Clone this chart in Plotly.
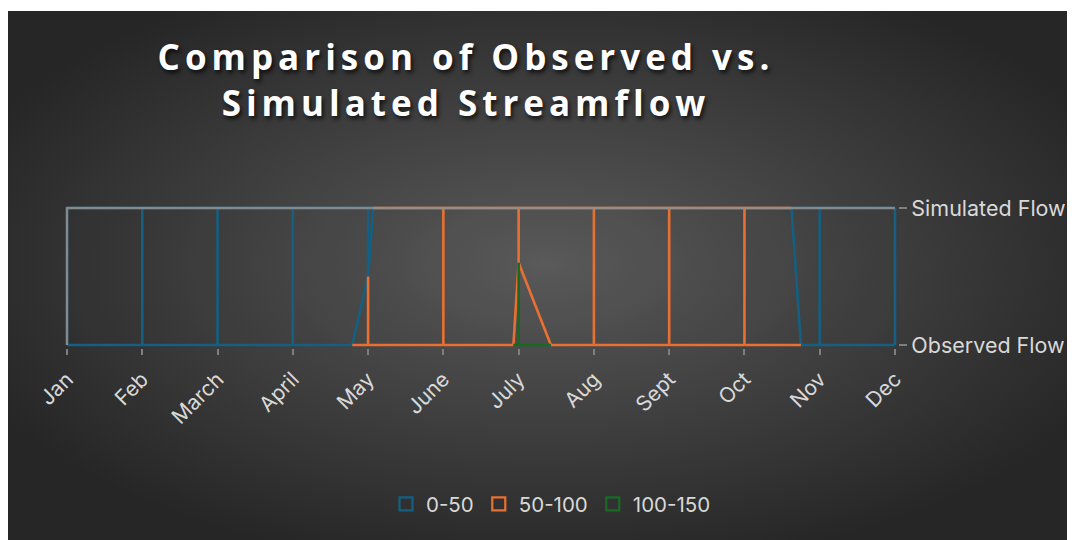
import base64
import plotly.graph_objects as go

# ---------------- data ----------------
months = ["Jan", "Feb", "March", "April", "May", "June", "July",
          "Aug", "Sept", "Oct", "Nov", "Dec"]
series_names = ["Observed Flow", "Simulated Flow"]
observed = [12, 10, 15, 42.5, 52, 60, 103, 96, 80, 65, 45, 20]
simulated = [20, 25, 30, 35, 48, 77, 98, 85, 75, 70, 38, 30]
band_labels = ["0-50", "50-100", "100-150"]
band_edges = [0, 50, 100, 150]
band_colors = ["#156082", "#E97132", "#196B24"]

# ------------- wireframe (surface chart) construction -------------
Z = [observed, simulated]
nx = len(months)
levels = band_edges[1:-1]


def band_of(v):
    for i in range(len(band_edges) - 1):
        if band_edges[i] <= v < band_edges[i + 1]:
            return i
    return len(band_edges) - 2


segs = {i: ([], []) for i in range(len(band_labels))}


def add_edge(p0, p1, v0, v1):
    # split an edge at band boundaries, colour each piece by its band
    ts = [0.0]
    for L in levels:
        if (v0 - L) * (v1 - L) < 0:
            ts.append((L - v0) / (v1 - v0))
    ts.append(1.0)
    ts.sort()
    for a, b in zip(ts[:-1], ts[1:]):
        vm = v0 + (a + b) / 2 * (v1 - v0)
        k = band_of(vm)
        xs, ys = segs[k]
        xs += [p0[0] + a * (p1[0] - p0[0]), p0[0] + b * (p1[0] - p0[0]), None]
        ys += [p0[1] + a * (p1[1] - p0[1]), p0[1] + b * (p1[1] - p0[1]), None]


for r in range(2):
    for c in range(nx - 1):
        add_edge((c, r), (c + 1, r), Z[r][c], Z[r][c + 1])
for c in range(nx):
    add_edge((c, 0), (c, 1), Z[0][c], Z[1][c])

# contour lines across each cell
for c in range(nx - 1):
    corners = [((c, 0), Z[0][c]), ((c + 1, 0), Z[0][c + 1]),
               ((c + 1, 1), Z[1][c + 1]), ((c, 1), Z[1][c])]
    for L in levels:
        pts = []
        for i in range(4):
            (pa, va), (pb, vb) = corners[i], corners[(i + 1) % 4]
            if (va - L) * (vb - L) < 0:
                t = (L - va) / (vb - va)
                pts.append((pa[0] + t * (pb[0] - pa[0]), pa[1] + t * (pb[1] - pa[1])))
        k = band_of(L - 1e-9)
        for j in range(0, len(pts) - 1, 2):
            xs, ys = segs[k]
            xs += [pts[j][0], pts[j + 1][0], None]
            ys += [pts[j][1], pts[j + 1][1], None]

fig = go.Figure()
for k in range(len(band_labels)):
    fig.add_trace(go.Scatter(x=segs[k][0], y=segs[k][1], mode="lines",
                             line=dict(color=band_colors[k], width=2.6),
                             hoverinfo="skip", showlegend=False))
# back-wall edges (grey) on top and left
fig.add_trace(go.Scatter(x=[0, 0, nx - 1], y=[0, 1, 1], mode="lines",
                         line=dict(color="#8f8f8f", width=2.4), opacity=0.9,
                         hoverinfo="skip", showlegend=False))
for k in range(len(band_labels)):
    fig.add_trace(go.Scatter(x=[None], y=[None], mode="markers", name=band_labels[k],
                             marker=dict(symbol="square-open", size=13,
                                         color=band_colors[k], line=dict(width=2.2))))

# ------------- page geometry (page body has an 8px default margin) -------------
W, H = 1075, 540
OFF = 8


def fx(px):
    return (px - OFF) / W


def fy(py):
    return 1 - (py - OFF) / H


# background (radial gradient)
bx0, by0 = 7, 11
bw, bh = W + OFF - bx0, H + OFF - by0
svg = (f'<svg xmlns="http://www.w3.org/2000/svg" width="{bw}" height="{bh}">'
       '<defs><radialGradient id="g" cx="50%" cy="47%" r="58%">'
       '<stop offset="0" stop-color="#5a5a5a"/><stop offset="1" stop-color="#262626"/>'
       '</radialGradient></defs>'
       f'<rect width="{bw}" height="{bh}" fill="url(#g)"/></svg>')
src = "data:image/svg+xml;base64," + base64.b64encode(svg.encode()).decode()

# axis geometry
px_x0, px_x1 = 67, 895
px_y0, px_y1 = 345, 208
padx, pady = 0.04, 0.02
ux = (px_x1 - px_x0) / (nx - 1)
uy = (px_y0 - px_y1)
dom_x = [fx(px_x0 - padx * ux), fx(px_x1 + padx * ux)]
dom_y = [fy(px_y0 + pady * uy), fy(px_y1 - pady * uy)]

font_family = "Inter, 'Open Sans', sans-serif"
fig.update_layout(
    width=W, height=H,
    margin=dict(l=0, r=0, t=0, b=0, autoexpand=False),
    paper_bgcolor="white",
    plot_bgcolor="rgba(0,0,0,0)",
    images=[dict(source=src, xref="paper", yref="paper", x=fx(bx0), y=fy(by0),
                 sizex=bw / W, sizey=bh / H, sizing="stretch", layer="below",
                 xanchor="left", yanchor="top")],
    title=dict(
        text='<span style="letter-spacing:5px">Comparison of Observed vs.</span><br>'
             '<span style="letter-spacing:5px">Simulated Streamflow</span>',
        x=fx(466), xanchor="center", xref="paper",
        y=fy(70), yanchor="top", yref="paper",
        font=dict(family="'Open Sans', Inter, sans-serif", size=35, color="white",
                  weight="bold", shadow="2px 3px 4px rgba(0,0,0,0.7)"),
    ),
    xaxis=dict(domain=dom_x, range=[-padx, nx - 1 + padx], automargin=False,
               tickmode="array", tickvals=list(range(nx)), ticktext=months,
               tickangle=-45, ticks="outside", ticklen=6, tickwidth=2,
               tickcolor="#7f7f7f", showgrid=False, zeroline=False, showline=False,
               ticklabelstandoff=4,
               tickfont=dict(family=font_family, size=21, color="#d9d9d9")),
    yaxis=dict(domain=dom_y, range=[-pady, 1 + pady], side="right", automargin=False,
               tickmode="array", tickvals=[0, 1], ticktext=series_names,
               ticks="outside", ticklen=8, tickwidth=2, tickcolor="#7f7f7f",
               showgrid=False, zeroline=False, showline=False,
               tickfont=dict(family=font_family, size=21.5, color="#d9d9d9")),
    legend=dict(orientation="h", x=fx(551), xanchor="center", y=fy(504),
                yanchor="middle", bgcolor="rgba(0,0,0,0)",
                font=dict(family=font_family, size=20.5, color="#d9d9d9"),
                itemwidth=30, tracegroupgap=0),
    showlegend=True,
)

fig.write_html("out.html")
